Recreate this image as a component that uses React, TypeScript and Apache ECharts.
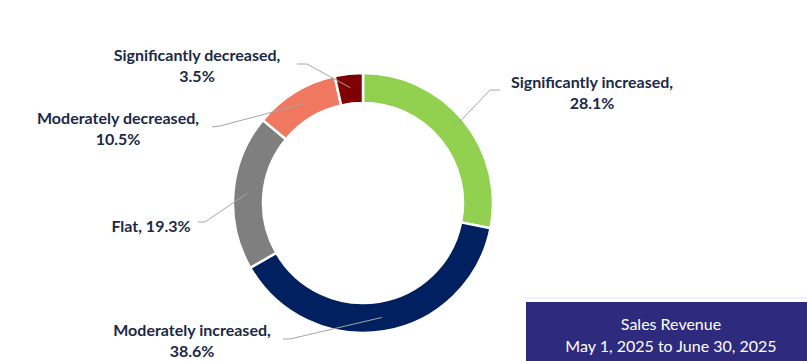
import React, { useEffect, useRef } from "react";
import * as echarts from "echarts";

const categories = [
  "Significantly increased",
  "Moderately increased",
  "Flat",
  "Moderately decreased",
  "Significantly decreased",
];
const values = [28.1, 38.6, 19.3, 10.5, 3.5];
const colors = ["#92D050", "#002060", "#7F7F7F", "#F07860", "#7F0000"];
const boxLines = ["Sales Revenue", "May 1, 2025 to June 30, 2025"];

// label anchor positions (layout only)
const labelPos = [
  { x: 592, y: 92, bend: [490, 90], end: [500, 90] },
  { x: 192, y: 340, bend: [290, 339], end: [283, 339] },
  { x: 151, y: 225, bend: [205, 222], end: [198, 222] },
  { x: 118, y: 128, bend: [220, 126], end: [212, 127] },
  { x: 197, y: 65, bend: [307, 64], end: [297, 64] },
];

const CX = 363;
const CY = 203;
const R_IN = 100;
const R_OUT = 130;
const R_LEADER = 116;
const FONT = "Lato, 'Open Sans', sans-serif";

export default function App() {
  const ref = useRef<HTMLDivElement>(null);
  useEffect(() => {
    if (!ref.current) return;
    const chart = echarts.init(ref.current, null, { renderer: "svg" });
    const total = values.reduce((a, b) => a + b, 0);
    const mids: number[] = [];
    let acc = 0;
    values.forEach((v) => {
      mids.push(((acc + v / 2) / total) * Math.PI * 2);
      acc += v;
    });
    const data = categories.map((name, i) => ({
      name,
      value: values[i],
      itemStyle: { color: colors[i] },
    }));
    chart.setOption({
      animation: false,
      series: [
        {
          type: "pie",
          z: 2,
          center: [CX, CY],
          radius: [R_IN, R_OUT],
          startAngle: 90,
          clockwise: true,
          silent: true,
          itemStyle: { borderColor: "#ffffff", borderWidth: 2.5 },
          data,
          label: { show: false },
          labelLine: { show: false },
          emphasis: { disabled: true },
        },
        {
          type: "pie",
          z: 5,
          center: [CX, CY],
          radius: [R_IN - 10, R_LEADER],
          startAngle: 90,
          clockwise: true,
          silent: true,
          avoidLabelOverlap: false,
          itemStyle: { color: "rgba(0,0,0,0)", borderWidth: 0 },
          data: categories.map((name, i) => ({ name, value: values[i] })),
          label: {
            show: true,
            position: "outside",
            color: "#1B2A47",
            fontFamily: FONT,
            fontWeight: "bold",
            fontSize: 16,
            lineHeight: 21,
            align: "center",
            formatter: (p: any) =>
              p.name === "Flat"
                ? `${p.name}, ${p.value}%`
                : `${p.name},\n${p.value}%`,
          },
          labelLine: {
            show: true,
            lineStyle: { color: "#A6A6A6", width: 1 },
          },
          labelLayout: (params: any) => {
            const i = params.dataIndex;
            const lp = labelPos[i];
            const a = mids[i];
            const sx = CX + R_LEADER * Math.sin(a);
            const sy = CY - R_LEADER * Math.cos(a);
            return {
              x: lp.x,
              y: lp.y,
              align: "center",
              verticalAlign: "middle",
              labelLinePoints: [[sx, sy], lp.bend, lp.end],
            };
          },
          emphasis: { disabled: true },
        },
      ],
      graphic: [
        {
          type: "rect",
          shape: { x: 524, y: 297, width: 290, height: 2 },
          style: { fill: "#EEF0F5" },
        },
        {
          type: "rect",
          shape: { x: 526, y: 302, width: 290, height: 70 },
          style: { fill: "#2E2A7E" },
        },
        {
          type: "text",
          x: 671,
          y: 323,
          style: {
            text: boxLines[0],
            fill: "#ffffff",
            font: `16px ${FONT}`,
            align: "center",
            verticalAlign: "middle",
          },
        },
        {
          type: "text",
          x: 671,
          y: 345,
          style: {
            text: boxLines[1],
            fill: "#ffffff",
            font: `16px ${FONT}`,
            align: "center",
            verticalAlign: "middle",
          },
        },
      ],
    });
    return () => chart.dispose();
  }, []);
  return (
    <div
      ref={ref}
      style={{ position: "fixed", left: 0, top: 0, width: 807, height: 361, background: "#fff" }}
    />
  );
}
